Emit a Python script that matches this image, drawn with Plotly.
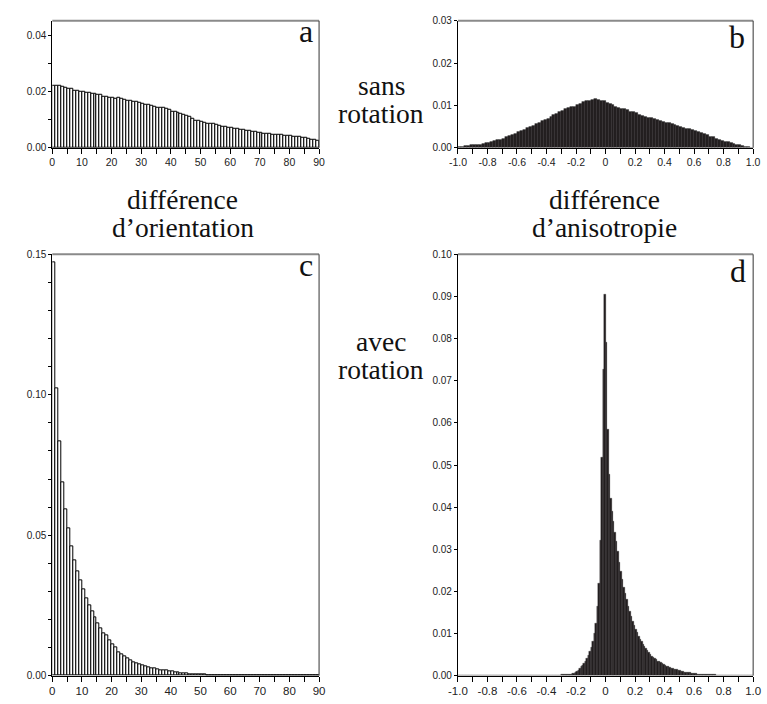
import numpy as np
import plotly.graph_objects as go

W, H = 767, 704

# ---------------- data ----------------
# orientation difference histograms (1-degree bins, 0..90)
orient_bin_starts = list(range(90))
a_values = [
    0.0220, 0.0222, 0.0221, 0.0218, 0.0214, 0.0210, 0.0209, 0.0205, 0.0203, 0.0200,
    0.0198, 0.0196, 0.0196, 0.0193, 0.0192, 0.0188, 0.0188, 0.0183, 0.0181, 0.0179,
    0.0178, 0.0175, 0.0178, 0.0176, 0.0172, 0.0169, 0.0166, 0.0165, 0.0163, 0.0160,
    0.0156, 0.0153, 0.0152, 0.0150, 0.0147, 0.0144, 0.0141, 0.0141, 0.0138, 0.0134,
    0.0130, 0.0128, 0.0125, 0.0121, 0.0117, 0.0113, 0.0109, 0.0104, 0.0098, 0.0096,
    0.0094, 0.0089, 0.0087, 0.0086, 0.0084, 0.0082, 0.0079, 0.0076, 0.0075, 0.0073,
    0.0070, 0.0068, 0.0066, 0.0064, 0.0063, 0.0062, 0.0060, 0.0058, 0.0056, 0.0055,
    0.0053, 0.0051, 0.0050, 0.0049, 0.0048, 0.0047, 0.0046, 0.0045, 0.0043, 0.0042,
    0.0041, 0.0040, 0.0039, 0.0038, 0.0037, 0.0035, 0.0033, 0.0030, 0.0028, 0.0025,
]
c_values = [
    0.1470, 0.1023, 0.0835, 0.0689, 0.0593, 0.0523, 0.0461, 0.0411, 0.0370, 0.0341,
    0.0307, 0.0276, 0.0250, 0.0228, 0.0209, 0.0185, 0.0168, 0.0149, 0.0142, 0.0124,
    0.0113, 0.0100, 0.0084, 0.0075, 0.0068, 0.0062, 0.0056, 0.0049, 0.0044, 0.0040,
    0.0037, 0.0034, 0.0030, 0.0027, 0.0025, 0.0022, 0.0020, 0.0019, 0.0018, 0.0015,
    0.0014, 0.0012, 0.0011, 0.0009, 0.0008, 0.0007, 0.0006, 0.0005, 0.0005, 0.0004,
    0.0003, 0.0003, 0.0002, 0.0002, 0.0002, 0.0001, 0.0001, 0.0001, 0.0001, 0.0001,
    0.0001, 0.0001, 0.0001, 0.0001, 0.0001, 0.0001, 0.0, 0.0, 0.0, 0.0,
    0.0, 0.0, 0.0, 0.0, 0.0, 0.0, 0.0, 0.0, 0.0, 0.0,
    0.0, 0.0, 0.0, 0.0, 0.0, 0.0, 0.0, 0.0, 0.0, 0.0,
]

# anisotropy difference, no rotation (bins of 0.02 from -1 to 1)
b_bin_start, b_bin_width = -1.0, 0.02
b_values = [
    0.0002, 0.0003, 0.0004, 0.0005, 0.0006, 0.0006, 0.0007, 0.0008, 0.0009, 0.0011,
    0.0012, 0.0014, 0.0016, 0.0018, 0.0020, 0.0022, 0.0025, 0.0028, 0.0031, 0.0034,
    0.0037, 0.0040, 0.0043, 0.0047, 0.0050, 0.0053, 0.0056, 0.0060, 0.0063, 0.0066,
    0.0069, 0.0073, 0.0077, 0.0081, 0.0085, 0.0088, 0.0091, 0.0094, 0.0096, 0.0098,
    0.0101, 0.0105, 0.0108, 0.0110, 0.0112, 0.0114, 0.0115, 0.0114, 0.0112, 0.0110,
    0.0107, 0.0104, 0.0101, 0.0098, 0.0095, 0.0093, 0.0091, 0.0089, 0.0086, 0.0084,
    0.0082, 0.0079, 0.0076, 0.0074, 0.0072, 0.0070, 0.0068, 0.0066, 0.0064, 0.0062,
    0.0060, 0.0058, 0.0056, 0.0054, 0.0052, 0.0050, 0.0048, 0.0046, 0.0044, 0.0042,
    0.0040, 0.0037, 0.0035, 0.0032, 0.0030, 0.0027, 0.0025, 0.0022, 0.0019, 0.0017,
    0.0015, 0.0013, 0.0011, 0.0009, 0.0008, 0.0006, 0.0004, 0.0003, 0.0002, 0.0001,
]

# anisotropy difference, with rotation (bins of 0.01 from -1 to 1)
d_bin_start, d_bin_width = -1.0, 0.01
d_values = [
    0, 0, 0, 0, 0, 0, 0, 0, 0, 0,
    0, 0, 0, 0, 0, 0, 0, 0, 0, 0,
    0, 0, 0, 0, 0, 0, 0, 0, 0, 0,
    0, 0, 0, 0, 0, 0, 0, 0, 0, 0,
    0, 0, 0, 0, 0, 0, 0, 0, 0, 0,
    0, 0, 0, 0, 0, 0, 0, 0, 0, 0,
    0.0001, 0.0001, 0.0001, 0.0001, 0.0001, 0.0001, 0.0001, 0.0001, 0.0001, 0.0001,
    0.0002, 0.0002, 0.0002, 0.0002, 0.0003, 0.0003, 0.0004, 0.0005, 0.0006, 0.0008,
    0.0010, 0.0013, 0.0017, 0.0021, 0.0025, 0.0029, 0.0034, 0.0041, 0.0048, 0.0057,
    0.0068, 0.0082, 0.0100, 0.0125, 0.0165, 0.0220, 0.0320, 0.0519, 0.0727, 0.0904,
    0.0791, 0.0585, 0.0477, 0.0420, 0.0390, 0.0367, 0.0340, 0.0318, 0.0295, 0.0270,
    0.0248, 0.0228, 0.0210, 0.0195, 0.0180, 0.0165, 0.0152, 0.0140, 0.0130, 0.0120,
    0.0111, 0.0102, 0.0094, 0.0087, 0.0081, 0.0075, 0.0069, 0.0064, 0.0059, 0.0055,
    0.0050, 0.0047, 0.0044, 0.0041, 0.0038, 0.0035, 0.0033, 0.0031, 0.0029, 0.0027,
    0.0025, 0.0023, 0.0021, 0.0020, 0.0018, 0.0017, 0.0016, 0.0015, 0.0014, 0.0013,
    0.0012, 0.0011, 0.0010, 0.0009, 0.0009, 0.0008, 0.0007, 0.0007, 0.0006, 0.0006,
    0.0005, 0.0005, 0.0004, 0.0004, 0.0004, 0.0003, 0.0003, 0.0003, 0.0003, 0.0002,
    0.0002, 0.0002, 0.0002, 0.0002, 0.0002, 0.0001, 0.0001, 0.0001, 0.0001, 0.0001,
    0.0001, 0.0001, 0.0001, 0.0001, 0.0001, 0, 0, 0, 0, 0,
    0, 0, 0, 0, 0, 0, 0, 0, 0, 0,
]

# tick labels
orient_tickvals = list(range(0, 91, 5))
orient_ticktext = ["0", "", "10", "", "20", "", "30", "", "40", "", "50", "", "60", "",
                   "70", "", "80", "", "90"]
aniso_tickvals = [round(-1.0 + 0.1 * i, 1) for i in range(21)]
aniso_ticktext = ["-1.0", "", "-0.8", "", "-0.6", "", "-0.4", "", "-0.2", "", "0", "",
                  "0.2", "", "0.4", "", "0.6", "", "0.8", "", "1.0"]
a_ytickvals = [0.00, 0.01, 0.02, 0.03, 0.04]
a_yticktext = ["0.00", "", "0.02", "", "0.04"]
b_ytickvals = [0.00, 0.01, 0.02, 0.03]
b_yticktext = ["0.00", "0.01", "0.02", "0.03"]
c_ytickvals = [round(0.01 * i, 2) for i in range(16)]
c_yticktext = ["0.00", "", "", "", "", "0.05", "", "", "", "", "0.10", "", "", "", "", "0.15"]
d_ytickvals = [round(0.01 * i, 2) for i in range(11)]
d_yticktext = ["0.00", "0.01", "0.02", "0.03", "0.04", "0.05", "0.06", "0.07", "0.08",
               "0.09", "0.10"]

# ---------------- layout helpers ----------------
def xdom(px0, px1):
    return [px0 / W, px1 / W]

def ydom(py_top, py_bot):
    return [1 - py_bot / H, 1 - py_top / H]

def px_x(px):
    return px / W

def px_y(py):
    return 1 - py / H

TICKFONT = dict(family="Liberation Sans, Arial, sans-serif", size=10, color="#222222")
SERIF = "Liberation Serif, Times New Roman, serif"

fig = go.Figure()

b_centers = b_bin_start + b_bin_width * (np.arange(len(b_values)) + 0.5)
d_centers = d_bin_start + d_bin_width * (np.arange(len(d_values)) + 0.5)
o_centers = np.array(orient_bin_starts) + 0.5

fig.add_trace(go.Bar(x=o_centers, y=a_values, width=1.0, xaxis="x", yaxis="y",
                     marker=dict(color="white", line=dict(color="black", width=1))))
fig.add_trace(go.Bar(x=b_centers, y=b_values, width=b_bin_width, xaxis="x2", yaxis="y2",
                     marker=dict(color="#231f20", line=dict(color="#231f20", width=0.3))))
fig.add_trace(go.Bar(x=o_centers, y=c_values, width=1.0, xaxis="x3", yaxis="y3",
                     marker=dict(color="white", line=dict(color="black", width=1))))
fig.add_trace(go.Bar(x=d_centers, y=d_values, width=d_bin_width, xaxis="x4", yaxis="y4",
                     marker=dict(color="#231f20", line=dict(color="#231f20", width=0.3))))

def xaxis(domain, rng, tv, tt, anchor, fsize=10.5):
    return dict(domain=domain, range=rng, anchor=anchor, showline=True, linecolor="black",
                linewidth=1, ticks="outside", ticklen=5, tickcolor="black", tickwidth=1,
                tickvals=tv, ticktext=tt, showgrid=False, zeroline=False,
                tickfont=dict(TICKFONT, size=fsize), fixedrange=True)

def yaxis(domain, rng, tv, tt, anchor):
    return dict(domain=domain, range=rng, anchor=anchor, showline=True, linecolor="black",
                linewidth=1, ticks="outside", ticklen=3, tickcolor="black", tickwidth=1,
                tickvals=tv, ticktext=tt, showgrid=False, zeroline=False,
                tickfont=TICKFONT, fixedrange=True)

A_X = xdom(43.3, 316.5); TOP_Y = ydom(15, 144)
B_X = xdom(458.7, 761.0)
BOT_Y = ydom(252.3, 680.3)

fig.update_layout(
    width=W, height=H, autosize=False,
    margin=dict(l=0, r=0, t=0, b=0),
    paper_bgcolor="white", plot_bgcolor="white",
    showlegend=False, bargap=0,
    xaxis=xaxis(A_X, [0, 90], orient_tickvals, orient_ticktext, "y"),
    yaxis=yaxis(TOP_Y, [0, 0.0453], a_ytickvals, a_yticktext, "x"),
    xaxis2=xaxis(B_X, [-1, 1], aniso_tickvals, aniso_ticktext, "y2"),
    yaxis2=yaxis(TOP_Y, [0, 0.03], b_ytickvals, b_yticktext, "x2"),
    xaxis3=xaxis(A_X, [0, 90], orient_tickvals, orient_ticktext, "y3", 11.5),
    yaxis3=yaxis(BOT_Y, [0, 0.15], c_ytickvals, c_yticktext, "x3"),
    xaxis4=xaxis(B_X, [-1, 1], aniso_tickvals, aniso_ticktext, "y4", 11.5),
    yaxis4=yaxis(BOT_Y, [0, 0.10], d_ytickvals, d_yticktext, "x4"),
)

# frame: grey top edge, dark right edge
shapes = []
for xs, ys in [("x", "y"), ("x2", "y2"), ("x3", "y3"), ("x4", "y4")]:
    shapes.append(dict(type="line", xref=f"{xs} domain", yref=f"{ys} domain",
                       x0=0, x1=1, y0=1, y1=1, line=dict(color="#8a8a8a", width=2)))
    shapes.append(dict(type="line", xref=f"{xs} domain", yref=f"{ys} domain",
                       x0=1, x1=1, y0=0, y1=1, line=dict(color="#333333", width=1)))
fig.update_layout(shapes=shapes)

annos = []
for letter, x, y in [("a", 303, 25), ("b", 744, 32), ("c", 303, 263), ("d", 746, 269)]:
    annos.append(dict(text=letter, x=px_x(x), y=px_y(y), xref="paper", yref="paper",
                      showarrow=False, xanchor="center", yanchor="middle",
                      font=dict(family=SERIF, size=32, color="#111111")))
for txt, x, y in [("sans", 380, 81), ("rotation", 380, 109),
                  ("avec", 380, 341), ("rotation", 380, 369),
                  ("différence", 177, 197), ("d’orientation", 177, 225),
                  ("différence", 609, 197), ("d’anisotropie", 609, 225)]:
    annos.append(dict(text=txt, x=px_x(x), y=px_y(y), xref="paper", yref="paper",
                      showarrow=False, xanchor="center", yanchor="middle", align="center",
                      font=dict(family=SERIF, size=27.5, color="#111111")))
fig.update_layout(annotations=annos)

fig.write_html("out.html")
